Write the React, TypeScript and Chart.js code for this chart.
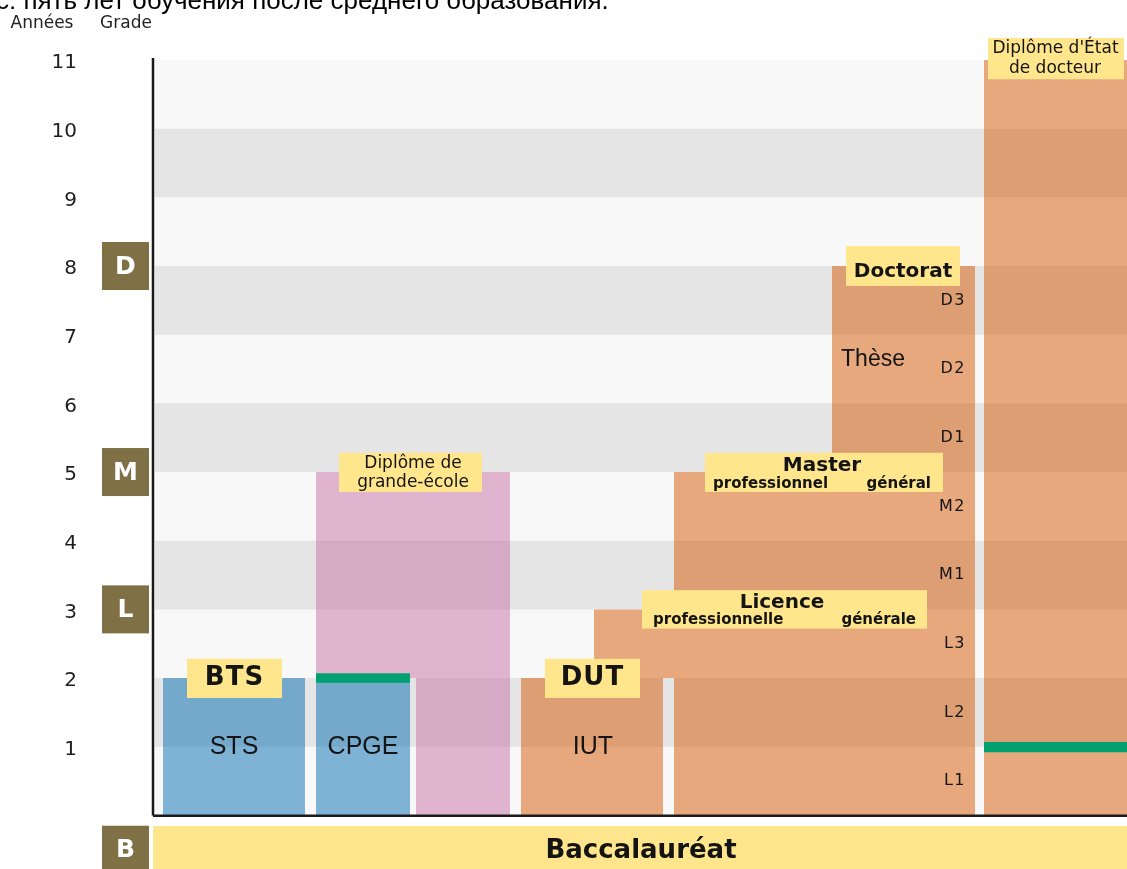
import React, { useEffect, useRef } from 'react';
import { Chart, registerables } from 'chart.js';

Chart.register(...registerables);

// ---------- data (x: horizontal diagram units, y: years after the baccalauréat) ----------
const yTicks = [1, 2, 3, 4, 5, 6, 7, 8, 9, 10, 11];
const xRange = [0, 97.4];
const yRange = [-0.779, 11];

const evenYearBands = [[1, 2], [3, 4], [5, 6], [7, 8], [9, 10]];
const allYearsBand = [[0.2, 0], [0.2, 11], [97.4, 11], [97.4, 0]];

const stsShape = [[1.0, 0], [1.0, 2], [15.2, 2], [15.2, 0]];
const cpgeShape = [[16.3, 0], [16.3, 2], [25.7, 2], [25.7, 0]];
const grandeEcoleShape = [[16.3, 2], [16.3, 5], [35.7, 5], [35.7, 0], [26.3, 0], [26.3, 2]];
const iutShape = [[36.8, 0], [36.8, 2], [51.0, 2], [51.0, 0]];
const universityShape = [[52.1, 0], [52.1, 2], [44.1, 2], [44.1, 3], [52.1, 3], [52.1, 5], [67.9, 5], [67.9, 8], [82.2, 8], [82.2, 0]];
const docteurEtatShape = [[83.1, 0], [83.1, 11], [97.4, 11], [97.4, 0]];
const cpgeBridge = [[16.3, 1.93], [16.3, 2.07], [25.7, 2.07], [25.7, 1.93]];
const docteurBridge = [[83.1, 0.92], [83.1, 1.07], [97.4, 1.07], [97.4, 0.92]];
const baccalaureatShape = [[0, -0.155], [0, -0.8], [97.4, -0.8], [97.4, -0.155]];
const verticalAxis = [[0, 0], [0, 11.03]];
const horizontalAxis = [[0, -0.005], [97.4, -0.005]];

const yearLevels = ['L1', 'L2', 'L3', 'M1', 'M2', 'D1', 'D2', 'D3'];
const yearLevelCenters = [0.5, 1.5, 2.5, 3.5, 4.5, 5.5, 6.5, 7.5];
const grades = ['D', 'M', 'L', 'B'];
const gradeYears = [8, 5, 3, -0.5];

// ---------- styles ----------
const LIGHT = '#f8f8f8';
const DARK = '#e5e5e5';
const BLUE = 'rgba(4,110,180,0.5)';
const PINK = 'rgba(200,112,166,0.5)';
const ORANGE = 'rgba(212,88,0,0.5)';
const GREEN = '#00a070';
const YELLOW = '#ffe68c';
const OLIVE = '#7f7046';
const INK = '#141414';
const DJ = '"DejaVu Sans", sans-serif';
const LIB = '"Liberation Sans", Arial, sans-serif';

const labelBoxes = [
  [3.4, 12.9, 1.71, 2.28],
  [39.2, 48.7, 1.71, 2.28],
  [18.6, 32.9, 4.71, 5.28],
  [48.9, 77.4, 2.72, 3.28],
  [55.2, 79.0, 4.71, 5.28],
  [69.3, 80.7, 7.71, 8.29],
  [83.5, 97.1, 10.72, 11.32],
];

type Ann = { t: string; x: number; y: number; font: string; align: CanvasTextAlign; base: CanvasTextBaseline; sp?: string };
const annotations: Ann[] = [
  { t: 'BTS', x: 8.15, y: 1.99, font: `bold 26px ${DJ}`, align: 'center', base: 'middle', sp: '1px' },
  { t: 'DUT', x: 43.95, y: 1.99, font: `bold 26px ${DJ}`, align: 'center', base: 'middle', sp: '1px' },
  { t: 'Diplôme de', x: 26.0, y: 5.06, font: `17px ${DJ}`, align: 'center', base: 'alphabetic' },
  { t: 'grande-école', x: 26.0, y: 4.78, font: `17px ${DJ}`, align: 'center', base: 'alphabetic' },
  { t: 'Licence', x: 62.9, y: 3.02, font: `bold 20px ${DJ}`, align: 'center', base: 'alphabetic' },
  { t: 'professionnelle', x: 50.0, y: 2.79, font: `bold 15px ${DJ}`, align: 'left', base: 'alphabetic' },
  { t: 'générale', x: 76.3, y: 2.79, font: `bold 15px ${DJ}`, align: 'right', base: 'alphabetic' },
  { t: 'Master', x: 66.9, y: 5.02, font: `bold 20px ${DJ}`, align: 'center', base: 'alphabetic' },
  { t: 'professionnel', x: 56.0, y: 4.77, font: `bold 15px ${DJ}`, align: 'left', base: 'alphabetic' },
  { t: 'général', x: 77.8, y: 4.77, font: `bold 15px ${DJ}`, align: 'right', base: 'alphabetic' },
  { t: 'Doctorat', x: 75.0, y: 7.84, font: `bold 20px ${DJ}`, align: 'center', base: 'alphabetic' },
  { t: "Diplôme d'État", x: 90.25, y: 11.10, font: `17px ${DJ}`, align: 'center', base: 'alphabetic' },
  { t: 'de docteur', x: 90.2, y: 10.81, font: `17px ${DJ}`, align: 'center', base: 'alphabetic' },
  { t: 'STS', x: 8.1, y: 1.0, font: `25px ${LIB}`, align: 'center', base: 'middle' },
  { t: 'CPGE', x: 21.0, y: 1.0, font: `25px ${LIB}`, align: 'center', base: 'middle' },
  { t: 'IUT', x: 44.0, y: 1.0, font: `25px ${LIB}`, align: 'center', base: 'middle' },
  { t: 'Thèse', x: 72.0, y: 6.63, font: `23px ${LIB}`, align: 'center', base: 'middle' },
  { t: 'Baccalauréat', x: 48.8, y: -0.52, font: `bold 26px ${DJ}`, align: 'center', base: 'middle' },
];

const pts = (s: number[][]) => s.map(([x, y]) => ({ x, y }));

const shapeSet = (s: number[][], color: string, order: number) => ({
  type: 'line' as const,
  data: pts(s),
  fill: 'shape',
  backgroundColor: color,
  borderColor: 'rgba(0,0,0,0)',
  borderWidth: 0,
  pointRadius: 0,
  pointHoverRadius: 0,
  tension: 0,
  order,
});

const lineSet = (s: number[][], order: number) => ({
  type: 'line' as const,
  data: pts(s),
  fill: false,
  borderColor: '#1a1a1a',
  borderWidth: 2.5,
  pointRadius: 0,
  pointHoverRadius: 0,
  tension: 0,
  clip: false as const,
  order,
});

const labelsPlugin = {
  id: 'diagramLabels',
  afterDatasetsDraw(chart: any) {
    const { ctx, scales, chartArea } = chart;
    const xs = scales.x;
    const ys = scales.y;
    const px = (v: number) => xs.getPixelForValue(v);
    const py = (v: number) => ys.getPixelForValue(v);
    ctx.save();

    // caption (cut off at top of the page)
    ctx.fillStyle = '#000';
    ctx.font = `26px ${LIB}`;
    ctx.textAlign = 'left';
    ctx.textBaseline = 'alphabetic';
    ctx.fillText('с: пять лет обучения после среднего образования.', -4, 9);

    // column headers
    ctx.fillStyle = '#222';
    ctx.font = `17px ${DJ}`;
    ctx.textAlign = 'center';
    ctx.textBaseline = 'middle';
    ctx.fillText('Années', 42, 24);
    ctx.fillText('Grade', 126, 24);

    // grade boxes
    grades.forEach((g, i) => {
      const cy = py(gradeYears[i]);
      const left = chartArea.left - 51;
      ctx.fillStyle = OLIVE;
      ctx.fillRect(left, cy - 24, 47, 48);
      ctx.fillStyle = '#ffffff';
      ctx.font = `bold 25px ${DJ}`;
      ctx.textAlign = 'center';
      ctx.textBaseline = 'middle';
      ctx.fillText(g, left + 23.5, cy + 1);
    });

    // yellow label boxes
    ctx.fillStyle = YELLOW;
    labelBoxes.forEach(([x0, x1, y0, y1]) => {
      ctx.fillRect(px(x0), py(y1), px(x1) - px(x0), py(y0) - py(y1));
    });

    // texts
    ctx.fillStyle = INK;
    annotations.forEach((a) => {
      ctx.font = a.font;
      ctx.textAlign = a.align;
      ctx.textBaseline = a.base;
      (ctx as any).letterSpacing = a.sp || '0px';
      ctx.fillText(a.t, px(a.x), py(a.y));
    });

    // year levels
    ctx.font = `16px ${DJ}`;
    (ctx as any).letterSpacing = '1.5px';
    ctx.textAlign = 'right';
    ctx.textBaseline = 'middle';
    yearLevels.forEach((l, i) => {
      ctx.fillText(l, px(81.3), py(yearLevelCenters[i]));
    });
    (ctx as any).letterSpacing = '0px';
    ctx.restore();
  },
};

export default function App() {
  const ref = useRef<HTMLCanvasElement | null>(null);

  useEffect(() => {
    if (!ref.current) return;
    const datasets: any[] = [
      shapeSet(allYearsBand, LIGHT, 100),
      ...evenYearBands.map(([a, b], i) => shapeSet([[0.2, a], [0.2, b], [97.4, b], [97.4, a]], DARK, 99 - i)),
      shapeSet(baccalaureatShape, YELLOW, 80),
      shapeSet(stsShape, BLUE, 50),
      shapeSet(cpgeShape, BLUE, 49),
      shapeSet(grandeEcoleShape, PINK, 48),
      shapeSet(iutShape, ORANGE, 47),
      shapeSet(universityShape, ORANGE, 46),
      shapeSet(docteurEtatShape, ORANGE, 45),
      shapeSet(cpgeBridge, GREEN, 20),
      shapeSet(docteurBridge, GREEN, 19),
      lineSet(verticalAxis, 5),
      lineSet(horizontalAxis, 4),
    ];
    const chart = new Chart(ref.current, {
      type: 'line',
      data: { datasets },
      plugins: [labelsPlugin],
      options: {
        animation: false,
        responsive: false,
        maintainAspectRatio: false,
        events: [],
        layout: { padding: { top: 60, left: 0, right: 0, bottom: 0 } },
        plugins: { legend: { display: false }, tooltip: { enabled: false } },
        scales: {
          x: { type: 'linear', min: xRange[0], max: xRange[1], display: false },
          y: {
            type: 'linear',
            min: yRange[0],
            max: yRange[1],
            position: 'left',
            border: { display: false },
            grid: { display: false, drawTicks: true, tickLength: 76 },
            ticks: {
              padding: 0,
              labelOffset: 3,
              autoSkip: false,
              color: '#1e1e1e',
              font: { family: 'DejaVu Sans', size: 20, lineHeight: 0.01 },
              callback: (v: any) => String(v),
            },
            afterBuildTicks: (s: any) => {
              s.ticks = yTicks.map((v) => ({ value: v }));
            },
            afterFit: (s: any) => {
              s.width = 153;
            },
          },
        },
      } as any,
    });
    return () => chart.destroy();
  }, []);

  return (
    <div style={{ position: 'absolute', left: 0, top: 0, width: 1127, height: 869 }}>
      <canvas ref={ref} width={1127} height={869} style={{ display: 'block' }} />
    </div>
  );
}
